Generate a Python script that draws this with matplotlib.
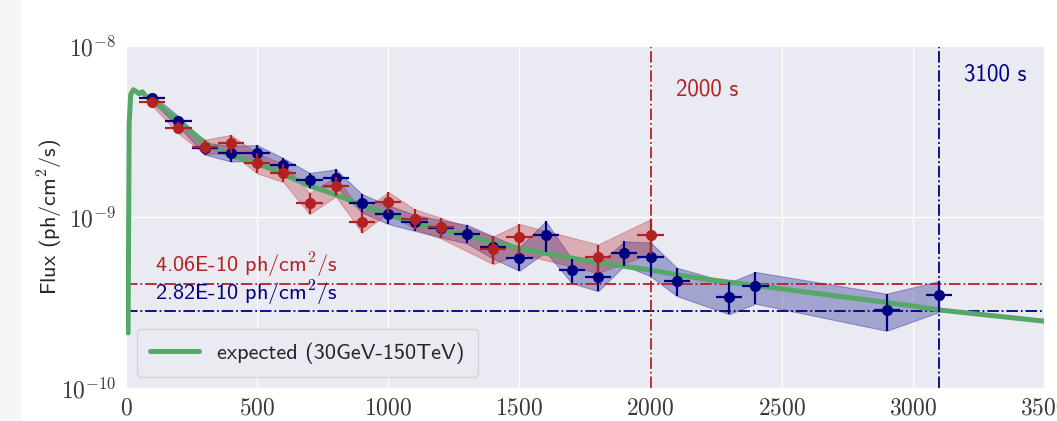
import math

import matplotlib
matplotlib.use("Agg")
import matplotlib.pyplot as plt
import seaborn as sns
from matplotlib.patches import Rectangle
from matplotlib.ticker import FixedLocator, FuncFormatter, NullLocator

# blue light curve
t_blue = [100, 200, 300, 400, 500, 600, 700, 800, 900, 1000, 1100, 1200, 1300,
          1400, 1500, 1600, 1700, 1800, 1900, 2000, 2100, 2300, 2400, 2900, 3100]
f_blue = [4.94e-9, 3.64e-9, 2.52e-9, 2.36e-9, 2.38e-9, 2.01e-9, 1.64e-9, 1.70e-9,
          1.21e-9, 1.04e-9, 9.3e-10, 8.6e-10, 8.0e-10, 6.7e-10, 5.75e-10, 7.85e-10,
          4.9e-10, 4.48e-10, 6.2e-10, 5.8e-10, 4.25e-10, 3.42e-10, 3.94e-10,
          2.86e-10, 3.5e-10]
e_blue = [0.25e-9, 0.25e-9, 0.2e-9, 0.25e-9, 0.25e-9, 0.2e-9, 0.17e-9, 0.2e-9,
          0.15e-9, 0.13e-9, 1.0e-10, 1.0e-10, 1.0e-10, 1.0e-10, 0.9e-10, 1.6e-10,
          0.8e-10, 0.8e-10, 1.0e-10, 1.3e-10, 0.8e-10, 0.72e-10, 0.83e-10,
          0.7e-10, 0.72e-10]

# red light curve
t_red = [100, 200, 300, 400, 500, 600, 700, 800, 900, 1000, 1100, 1200,
         1400, 1500, 1800, 2000]
f_red = [4.71e-9, 3.33e-9, 2.58e-9, 2.70e-9, 2.08e-9, 1.82e-9, 1.21e-9, 1.52e-9,
         9.4e-10, 1.23e-9, 9.8e-10, 8.7e-10, 6.5e-10, 7.6e-10, 5.8e-10, 7.9e-10]
e_red = [0.25e-9, 0.25e-9, 0.25e-9, 0.32e-9, 0.28e-9, 0.22e-9, 0.17e-9, 0.2e-9,
         1.3e-10, 1.7e-10, 1.3e-10, 1.2e-10, 1.2e-10, 1.5e-10, 1.1e-10, 1.8e-10]

# expected curve
t_exp = [8, 12, 18, 28, 40, 50, 62, 75, 100, 150, 200, 250, 300, 400, 500, 600,
         700, 800, 900, 1000, 1100, 1200, 1300, 1400, 1500, 1600, 1800, 2000,
         2100, 2200, 2500, 3000, 3100, 3500]
f_exp = [2.1e-10, 3.5e-9, 5.2e-9, 5.55e-9, 5.4e-9, 5.25e-9, 5.4e-9, 5.1e-9,
         4.85e-9, 4.2e-9, 3.67e-9, 3.15e-9, 2.72e-9, 2.28e-9, 2.06e-9, 1.78e-9,
         1.52e-9, 1.35e-9, 1.17e-9, 1.03e-9, 9.2e-10, 8.47e-10, 7.78e-10,
         7.08e-10, 6.56e-10, 6.13e-10, 5.4e-10, 4.9e-10, 4.6e-10, 4.35e-10,
         3.8e-10, 3.02e-10, 2.86e-10, 2.46e-10]

lim_red, lim_blue = 4.06e-10, 2.82e-10
cut_red, cut_blue = 2000, 3100

RED = "#b22222"
BLUE = "#000080"
GREEN = "#55a868"

sns.set_style("darkgrid")
plt.rcParams["mathtext.fontset"] = "cm"
plt.rcParams["font.family"] = ["cmss10", "DejaVu Sans"]
plt.rcParams["axes.unicode_minus"] = False

fig = plt.figure(figsize=(10.57, 4.21), dpi=100)
fig.patches.append(Rectangle((0, 0), 20 / 1057, 1, transform=fig.transFigure,
                             color="#f5f5f5", zorder=0))
ax = fig.add_axes([126 / 1057, 1 - 388 / 421, (1044 - 126) / 1057, (388 - 46) / 421])

lo_b = [f - e for f, e in zip(f_blue, e_blue)]
hi_b = [f + e for f, e in zip(f_blue, e_blue)]
lo_r = [f - e for f, e in zip(f_red, e_red)]
hi_r = [f + e for f, e in zip(f_red, e_red)]
ax.fill_between(t_blue, lo_b, hi_b, color=BLUE, alpha=0.3, lw=0.8, zorder=2)
ax.fill_between(t_red, lo_r, hi_r, color=RED, alpha=0.3, lw=0.8, zorder=2)

ax.plot(t_exp, f_exp, color=GREEN, lw=3.6, label="expected (30GeV-150TeV)", zorder=3)

ax.axhline(lim_red, color=RED, ls="-.", lw=1.3, zorder=2.5)
ax.axhline(lim_blue, color=BLUE, ls="-.", lw=1.3, zorder=2.5)
ax.axvline(cut_red, color=RED, ls="-.", lw=1.3, zorder=2.5)
ax.axvline(cut_blue, color=BLUE, ls="-.", lw=1.3, zorder=2.5)

ax.errorbar(t_blue, f_blue, yerr=e_blue, xerr=50, fmt="o", color=BLUE, ms=7,
            elinewidth=1.6, capsize=0, zorder=4)
ax.errorbar(t_red, f_red, yerr=e_red, xerr=50, fmt="o", color=RED, ms=7,
            elinewidth=1.6, capsize=0, zorder=5)

ax.text(110, lim_red * 1.05, "4.06E-10 ph/cm$^2$/s", color=RED, fontsize=16,
        va="bottom", ha="left")
ax.text(110, lim_blue * 1.04, "2.82E-10 ph/cm$^2$/s", color=BLUE, fontsize=16,
        va="bottom", ha="left")
ax.text(2098, 5.53e-9, "2000 s", color=RED, fontsize=16.5, va="center")
ax.text(3195, 6.77e-9, "3100 s", color=BLUE, fontsize=16.5, va="center")

ax.set_yscale("log")
ax.set_xlim(0, 3500)
ax.set_ylim(1e-10, 1e-8)
ax.yaxis.set_major_locator(FixedLocator([1e-10, 1e-9, 1e-8]))
ax.yaxis.set_minor_locator(NullLocator())
ax.yaxis.set_major_formatter(FuncFormatter(lambda v, p: r"$10^{%d}$" % round(math.log10(v))))
ax.xaxis.set_major_formatter(FuncFormatter(lambda v, p: r"$%d$" % v))
ax.tick_params(labelsize=17, colors="#3a3a3a")
ax.set_ylabel("Flux (ph/cm$^2$/s)", fontsize=16, color="#262626", labelpad=-3)

leg = ax.legend(loc="lower left", fontsize=16, handlelength=2.2, borderpad=0.6)
for txt in leg.get_texts():
    txt.set_color("#262626")

fig.savefig("out.png", dpi=100)
